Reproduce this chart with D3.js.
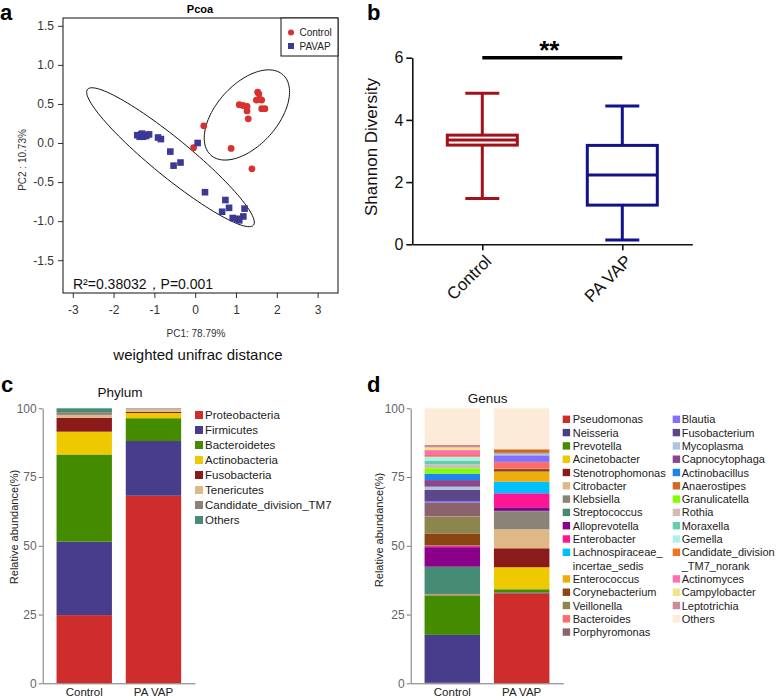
<!DOCTYPE html>
<html><head><meta charset="utf-8">
<script src="https://cdn.jsdelivr.net/npm/d3@7"></script>
<style>
body{margin:0;background:#fff;}
svg{display:block;font-family:"Liberation Sans",Arial,Helvetica,sans-serif;}
</style>
</head><body>
<svg id="chart" width="778" height="700"></svg>
<script>
// ================= DATA =================
// Panel a: PCoA (weighted unifrac)
const pcoaControl = [[1.53,0.65],[1.56,0.63],[1.50,0.55],[1.63,0.55],[1.58,0.56],[1.08,0.49],[1.17,0.48],[1.27,0.47],[1.27,0.41],[1.63,0.44],[1.71,0.44],[1.30,0.31],[0.21,0.22],[-0.04,-0.06],[0.88,-0.07],[1.39,-0.33]];
const pcoaPAVAP = [[-1.42,0.10],[-1.36,0.08],[-1.32,0.11],[-1.28,0.08],[-1.25,0.10],[-1.20,0.09],[-1.13,0.11],[-1.30,0.12],[-0.91,0.07],[-0.84,0.05],[0.06,0.00],[-0.61,-0.11],[-0.53,-0.29],[-0.36,-0.25],[0.24,-0.63],[0.74,-0.73],[0.83,-0.83],[1.21,-0.84],[0.66,-0.88],[0.92,-0.96],[1.03,-0.97],[1.18,-0.94],[1.08,-0.99]];
const ellipseControl = {center:[1.267,0.359], axis1:[0.885,0.514], axis2:[0.557,-0.263]};
const ellipsePAVAP = {center:[-0.605,-0.182], axis1:[2.034,-0.869], axis2:[-0.294,-0.188]};
const pcoaXTicks = [-3,-2,-1,0,1,2,3];
const pcoaYTicks = [-1.5,-1.0,-0.5,0.0,0.5,1.0,1.5];
const pcoaLegend = ["Control","PAVAP"];

// Panel b: Shannon diversity box plot
const shannonGroups = ["Control","PA VAP"];
const shannonMin = [1.47,0.14];
const shannonQ1 = [3.19,1.26];
const shannonMedian = [3.35,2.23];
const shannonQ3 = [3.51,3.18];
const shannonMax = [4.86,4.45];
const shannonTicks = [0,2,4,6];

// Panel c: Phylum
const barGroups = ["Control","PA VAP"];
const phylumNames = ["Proteobacteria","Firmicutes","Bacteroidetes","Actinobacteria","Fusobacteria","Tenericutes","Candidate_division_TM7","Others"];
const phylumControl = [24.8,26.7,31.7,8.3,5.0,1.1,1.0,1.4];
const phylumPAVAP = [68.2,19.9,8.3,1.9,0.4,1.0,0.2,0.1];

// Panel d: Genus
const genusNames = ["Pseudomonas","Neisseria","Prevotella","Acinetobacter","Stenotrophomonas","Citrobacter","Klebsiella","Streptococcus","Alloprevotella","Enterobacter","Lachnospiraceae_incertae_sedis","Enterococcus","Corynebacterium","Veillonella","Bacteroides","Porphyromonas","Blautia","Fusobacterium","Mycoplasma","Capnocytophaga","Actinobacillus","Anaerostipes","Granulicatella","Rothia","Moraxella","Gemella","Candidate_division_TM7_norank","Actinomyces","Campylobacter","Leptotrichia","Others"];
const genusLegendLabels = ["Pseudomonas","Neisseria","Prevotella","Acinetobacter","Stenotrophomonas","Citrobacter","Klebsiella","Streptococcus","Alloprevotella","Enterobacter","Lachnospiraceae_|incertae_sedis","Enterococcus","Corynebacterium","Veillonella","Bacteroides","Porphyromonas","Blautia","Fusobacterium","Mycoplasma","Capnocytophaga","Actinobacillus","Anaerostipes","Granulicatella","Rothia","Moraxella","Gemella","Candidate_division|_TM7_norank","Actinomyces","Campylobacter","Leptotrichia","Others"];
const genusControl = [0.2,17.4,14.3,0.1,0.1,0.1,0.3,9.9,7.1,0.4,0.1,0.1,4.4,6.1,0.1,5.1,0.5,4.0,1.2,2.4,2.3,0.1,1.9,1.4,1.4,1.4,0.6,1.8,1.0,0.9,13.3];
const genusPAVAP = [32.7,0.3,1.2,8.0,6.9,6.9,6.4,0.3,1.3,5.1,4.2,3.7,0.9,0.1,2.4,0.1,2.3,0.1,0.7,0.1,0.1,1.3,0,0,0,0,0,0,0,0,14.9];
const abundanceTicks = [0,25,50,75,100];

// ================= STYLES =================
const phylumColors = ["#CF2C2C","#483D8B","#458B00","#EEC900","#8B1A1A","#DEB887","#8B8378","#458B74"];
const genusColors = ["#CF2C2C","#483D8B","#458B00","#EEC900","#8B1A1A","#DEB887","#8B8378","#458B74","#8B008B","#FF1493","#00BFFF","#EEAD0E","#8B4513","#8B864E","#FF6A6A","#8B636C","#8470FF","#5D478B","#B0C4DE","#8B4789","#1C86EE","#D2691E","#7FFF00","#CDBFB5","#66CDAA","#AEEEEE","#EE7621","#FF6EB4","#EEE685","#CD8C95","#FDEBD9"];
const pcoaColors = ["#D93030","#3C3896"];
const boxColors = ["#A3121A","#12128A"];

const svg = d3.select("#chart");
svg.append("rect").attr("width",778).attr("height",700).attr("fill","#fff");

// panel letters
[["a",0,20],["b",367,20],["c",1,392],["d",367,392]].forEach(([t,x,y])=>{
  svg.append("text").attr("x",x).attr("y",y).attr("font-size",22).attr("font-weight","bold").attr("fill","#000").text(t);
});

// ================= PANEL A =================
{
  const g = svg.append("g");
  const x = d3.scaleLinear().domain([-3.24,3.5]).range([63,338]);
  const y = d3.scaleLinear().domain([-1.92,1.60]).range([293,18]);
  g.append("text").attr("x",200).attr("y",13).attr("text-anchor","middle").attr("font-size",11).attr("font-weight","bold").text("Pcoa");

  const xa = g.append("g").attr("transform","translate(0,293)").call(d3.axisBottom(x).tickValues(pcoaXTicks).tickSize(5).tickPadding(7).tickFormat(d=>String(d)));
  const ya = g.append("g").attr("transform","translate(63,0)").call(d3.axisLeft(y).tickValues(pcoaYTicks).tickSize(5).tickPadding(4).tickFormat(d=>d.toFixed(1)));
  [xa,ya].forEach(a=>{a.select(".domain").remove();a.selectAll("text").attr("font-size",12).attr("fill","#333").attr("font-family","Liberation Sans, Arial, sans-serif");a.selectAll("line").attr("stroke","#333");});

  g.append("rect").attr("x",63).attr("y",18).attr("width",275).attr("height",275).attr("fill","none").attr("stroke","#111").attr("stroke-width",1);

  const ell = (e)=>d3.range(0,361,3).map(a=>{const t=a*Math.PI/180;return [e.center[0]+Math.cos(t)*e.axis1[0]+Math.sin(t)*e.axis2[0], e.center[1]+Math.cos(t)*e.axis1[1]+Math.sin(t)*e.axis2[1]];});
  const line = d3.line().x(d=>x(d[0])).y(d=>y(d[1])).curve(d3.curveLinearClosed);
  [ellipseControl,ellipsePAVAP].forEach(e=>g.append("path").attr("d",line(ell(e))).attr("fill","none").attr("stroke","#111").attr("stroke-width",1));

  g.selectAll("circle.ctl").data(pcoaControl).join("circle").attr("cx",d=>x(d[0])).attr("cy",d=>y(d[1])).attr("r",3.4).attr("fill",pcoaColors[0]);
  g.selectAll("rect.pa").data(pcoaPAVAP).join("rect").attr("class","pa").attr("x",d=>x(d[0])-3.3).attr("y",d=>y(d[1])-3.3).attr("width",6.6).attr("height",6.6).attr("fill",pcoaColors[1]);

  // legend
  g.append("rect").attr("x",281).attr("y",18).attr("width",57).attr("height",38).attr("fill","#fff").attr("stroke","#111");
  g.append("circle").attr("cx",291).attr("cy",32.5).attr("r",3).attr("fill",pcoaColors[0]);
  g.append("rect").attr("x",288).attr("y",43).attr("width",6).attr("height",6).attr("fill",pcoaColors[1]);
  pcoaLegend.forEach((t,i)=>g.append("text").attr("x",299.5).attr("y",36+i*13.5).attr("font-size",10).attr("fill","#222").text(t));

  g.append("text").attr("x",73).attr("y",289).attr("font-size",14).attr("fill","#111").text("R\u00B2=0.38032\uFF0CP=0.001");
  g.append("text").attr("x",196).attr("y",337).attr("text-anchor","middle").attr("font-size",10).attr("fill","#333").text("PC1: 78.79%");
  g.append("text").attr("transform","translate(26,160) rotate(-90)").attr("text-anchor","middle").attr("font-size",10).attr("fill","#333").text("PC2 : 10.73%");
  g.append("text").attr("x",198).attr("y",360).attr("text-anchor","middle").attr("font-size",15).attr("fill","#111").text("weighted unifrac distance");
}

// ================= PANEL B =================
{
  const g = svg.append("g");
  const x = d3.scalePoint().domain(shannonGroups).range([412.3,692.3]).padding(0.5);
  const y = d3.scaleLinear().domain([0,6]).range([244.3,57.7]);
  const ya = g.append("g").attr("transform","translate(412.3,0)").call(d3.axisLeft(y).tickValues(shannonTicks).tickFormat(d3.format("d")).tickSize(6).tickPadding(3).tickSizeOuter(0));
  const xa = g.append("g").attr("transform","translate(0,244.3)").call(d3.axisBottom(x).tickSize(6).tickSizeOuter(0).tickFormat(""));
  [xa,ya].forEach(a=>{a.selectAll(".domain,line").attr("stroke","#111").attr("stroke-width",1.6);});
  ya.selectAll("text").attr("font-size",16).attr("fill","#111").attr("font-family","Liberation Sans, Arial, sans-serif");
  shannonGroups.forEach(gname=>{
    g.append("text").attr("transform",`translate(${x(gname)+6},258) rotate(-45)`).attr("text-anchor","end").attr("dy","0.35em").attr("font-size",17).attr("fill","#111").text(gname);
  });
  g.append("text").attr("transform","translate(377,147) rotate(-90)").attr("text-anchor","middle").attr("font-size",17).attr("fill","#111").text("Shannon Diversity");

  shannonGroups.forEach((gname,i)=>{
    const cx = x(gname), col = boxColors[i], bw = 35, cw = 17;
    const s = {stroke:col,"stroke-width":3,fill:"none"};
    const add=(tag,attrs)=>{const e=g.append(tag);Object.entries(Object.assign({},s,attrs)).forEach(([k,v])=>e.attr(k,v));return e;};
    add("line",{x1:cx,x2:cx,y1:y(shannonMin[i]),y2:y(shannonQ1[i])});
    add("line",{x1:cx,x2:cx,y1:y(shannonQ3[i]),y2:y(shannonMax[i])});
    add("line",{x1:cx-cw,x2:cx+cw,y1:y(shannonMin[i]),y2:y(shannonMin[i])});
    add("line",{x1:cx-cw,x2:cx+cw,y1:y(shannonMax[i]),y2:y(shannonMax[i])});
    add("rect",{x:cx-bw,y:y(shannonQ3[i]),width:2*bw,height:y(shannonQ1[i])-y(shannonQ3[i])});
    add("line",{x1:cx-bw,x2:cx+bw,y1:y(shannonMedian[i]),y2:y(shannonMedian[i])});
  });
  g.append("line").attr("x1",x(shannonGroups[0])).attr("x2",x(shannonGroups[1])).attr("y1",y(6)).attr("y2",y(6)).attr("stroke","#000").attr("stroke-width",3.5);
  g.append("text").attr("x",(x(shannonGroups[0])+x(shannonGroups[1]))/2-3).attr("y",59).attr("text-anchor","middle").attr("font-size",26).attr("font-weight","bold").text("**");
}

// ================= STACKED BARS =================
function stackedPanel(opts){
  const g = svg.append("g");
  const x = d3.scaleBand().domain(barGroups).range([opts.x0,opts.x1]).paddingInner(0.2).paddingOuter(0.2);
  const y = d3.scaleLinear().domain([0,100]).range([683.3,408.3]);
  const rows = barGroups.map((gname,gi)=>{const r={group:gname};opts.names.forEach((n,k)=>r[n]=opts.values[gi][k]);return r;});
  const series = d3.stack().keys(opts.names)(rows);
  series.forEach((s,k)=>{
    g.selectAll(null).data(s).join("rect")
      .attr("x",d=>x(d.data.group)).attr("width",x.bandwidth())
      .attr("y",d=>y(d[1])).attr("height",d=>Math.max(0,y(d[0])-y(d[1])))
      .attr("fill",opts.colors[k]);
  });
  const ya = g.append("g").attr("transform",`translate(${opts.x0},0)`).call(d3.axisLeft(y).tickValues(abundanceTicks).tickSize(4).tickPadding(2).tickSizeOuter(0));
  ya.selectAll(".domain,line").attr("stroke","#777");
  ya.selectAll("text").attr("font-size",12).attr("fill","#666").attr("font-family","Liberation Sans, Arial, sans-serif");
  const xa = g.append("g").attr("transform","translate(0,683.3)").call(d3.axisBottom(x).tickSize(0).tickPadding(4.5).tickSizeOuter(0));
  xa.select(".domain").attr("stroke","#777");
  xa.selectAll("text").attr("font-size",11.5).attr("fill","#222").attr("font-family","Liberation Sans, Arial, sans-serif");
  g.append("text").attr("x",opts.titleX).attr("y",opts.titleY).attr("text-anchor","middle").attr("font-size",13.5).attr("fill","#111").text(opts.title);
  g.append("text").attr("transform",`translate(${opts.ylabX},${opts.ylabY}) rotate(-90)`).attr("text-anchor","middle").attr("font-size",11).attr("fill","#222").text("Relative abundance(%)");
  return g;
}

// Panel c
{
  const g = stackedPanel({x0:42.7,x1:195,names:phylumNames,values:[phylumControl,phylumPAVAP],colors:phylumColors,title:"Phylum",titleX:120,titleY:397,ylabX:18,ylabY:527});
  phylumNames.forEach((n,i)=>{
    const yy = 415+i*15;
    g.append("rect").attr("x",195).attr("y",yy-4).attr("width",8).attr("height",8).attr("fill",phylumColors[i]);
    g.append("text").attr("x",205).attr("y",yy+4).attr("font-size",11.5).attr("fill","#222").text(n);
  });
}

// Panel d
{
  const g = stackedPanel({x0:410.7,x1:563.3,names:genusNames,values:[genusControl,genusPAVAP],colors:genusColors,title:"Genus",titleX:487.7,titleY:403,ylabX:383,ylabY:530});
  const cols = [{start:0,end:16,sx:562.7,tx:572.7},{start:16,end:31,sx:672.7,tx:681.7}];
  cols.forEach(c=>{
    let row = 0;
    for(let i=c.start;i<c.end;i++){
      const yy = 419.3+row*13.3;
      const lines = genusLegendLabels[i].split("|");
      g.append("rect").attr("x",c.sx).attr("y",yy-3.7).attr("width",7.4).attr("height",7.4).attr("fill",genusColors[i]);
      lines.forEach((t,j)=>g.append("text").attr("x",c.tx).attr("y",yy+4+j*13.3).attr("font-size",11).attr("fill","#222").text(t));
      row += lines.length;
    }
  });
}
</script>
</body></html>
